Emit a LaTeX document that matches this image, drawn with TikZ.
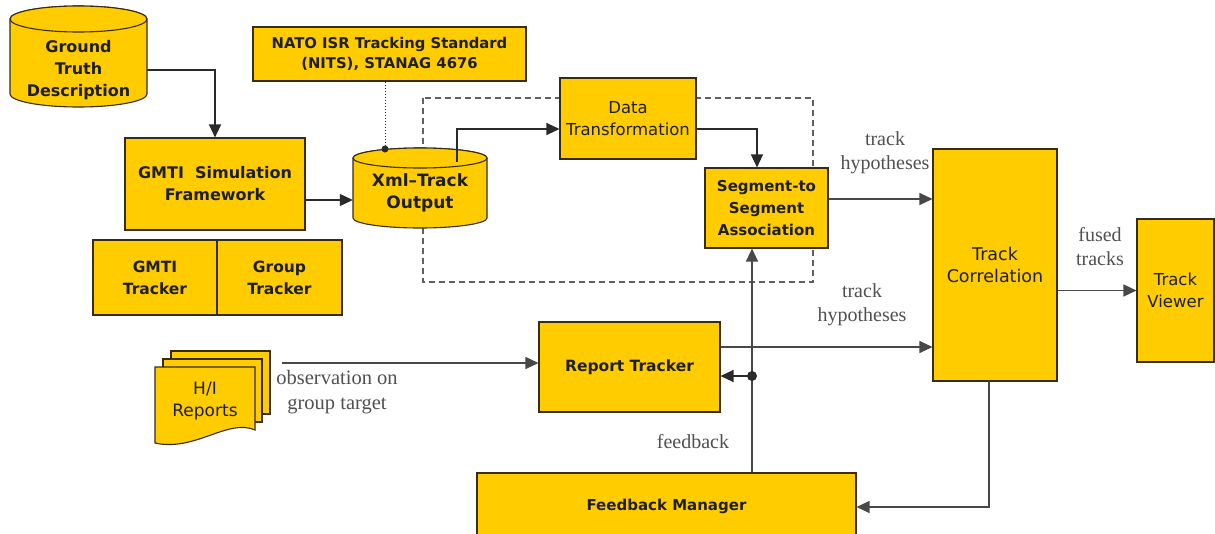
\documentclass[tikz,border=0pt]{standalone}
\usepackage{fontspec}
\setmainfont{DejaVu Sans}
\newfontfamily\lblfont{Liberation Serif}
\usetikzlibrary{arrows.meta,calc}
\definecolor{boxfill}{HTML}{FFCC00}
\definecolor{boxline}{HTML}{3A2C14}
\definecolor{lbl}{HTML}{505050}
\definecolor{conn}{HTML}{2A2A2A}
\definecolor{conng}{HTML}{484848}
\begin{document}
\begin{tikzpicture}[x=1pt,y=-1pt,
  box/.style={draw=boxline, fill=boxfill, line width=1.1pt, inner sep=0pt, align=center,
    text=black!88, font=\bfseries\fontsize{15.5}{22}\selectfont},
  plainbox/.style={box, font=\fontsize{17}{22}\selectfont},
  textonly/.style={inner sep=0pt, align=center, text=black!88, font=\bfseries\fontsize{16}{22}\selectfont},
  lab/.style={inner sep=0pt, align=center, text=lbl, font=\lblfont\fontsize{20}{24}\selectfont},
  arr/.style={draw=conn, line width=1.2pt, -{Triangle[length=13pt,width=12pt]}},
  cyl/.style={draw=boxline, fill=boxfill, line width=1.1pt}
]
\useasboundingbox (0,0) rectangle (1215,533);
\clip (0,0) rectangle (1215,533);
\fill[white] (0,0) rectangle (1215,533);

% dashed frame
\draw[gray!75!black, dashed, dash pattern=on 6pt off 4pt, line width=1.2pt] (423,98) rectangle (813,282);

% Ground truth cylinder
\draw[cyl] (10,19) -- (10,94) arc[start angle=180, end angle=0, x radius=68.5, y radius=13] -- (147,19)
  arc[start angle=0, end angle=-180, x radius=68.5, y radius=13] -- cycle;
\draw[cyl] (78.5,19) ellipse[x radius=68.5, y radius=13];
\node[textonly, minimum width=137, minimum height=76] (gt) at (78.5,70) {Ground\\Truth\\Description};

% Xml-Track cylinder
\draw[cyl] (353,158) -- (353,218) arc[start angle=180, end angle=0, x radius=67, y radius=10] -- (487,158)
  arc[start angle=0, end angle=-180, x radius=67, y radius=10] -- cycle;
\draw[cyl] (420,158) ellipse[x radius=67, y radius=10];
\node[textonly, minimum width=134, minimum height=70, font=\bfseries\fontsize{17}{22}\selectfont] (xml) at (420,193) {Xml--Track\\Output};
\coordinate (xmltop) at (457,162);

% boxes
\node[box, minimum width=273, minimum height=54, font=\bfseries\fontsize{14.8}{20}\selectfont] (nato) at (389.5,54) {NATO ISR Tracking Standard\\(NITS), STANAG 4676};
\node[box, minimum width=180, minimum height=92, font=\bfseries\fontsize{16}{22}\selectfont] (sim) at (215,184) {GMTI\ \ Simulation\\Framework};
\node[box, minimum width=124, minimum height=75] (trk1) at (155,277.5) {GMTI\\Tracker};
\node[box, minimum width=125, minimum height=75] (trk2) at (279.5,277.5) {Group\\Tracker};
\node[plainbox, minimum width=136, minimum height=81, font=\fontsize{16.5}{22}\selectfont] (dt) at (628,118.5) {Data\\Transformation};
\node[box, minimum width=123, minimum height=80, font=\bfseries\fontsize{15}{22}\selectfont] (seg) at (766.5,208) {Segment-to\\Segment\\Association};
\node[plainbox, minimum width=124, minimum height=232, font=\fontsize{17.5}{22}\selectfont] (tc) at (995,265) {Track\\Correlation};
\node[plainbox, minimum width=77, minimum height=143, font=\fontsize{16.5}{22}\selectfont] (tv) at (1175.5,290.5) {Track\\Viewer};
\node[box, minimum width=181, minimum height=90] (rt) at (629.5,367) {Report Tracker};
\node[box, minimum width=379, minimum height=67, font=\bfseries\fontsize{15}{22}\selectfont] (fm) at (666.5,506.5) {Feedback Manager};

% H/I reports (multi-document)
\draw[cyl] (171,351) rectangle (270,414);
\draw[cyl] (163,359) rectangle (262,422);
\draw[cyl] (155,367) -- (255,367) -- (255,430) .. controls (228,418) and (195,452) .. (155,443) -- cycle;
\node[textonly, font=\fontsize{17}{22}\selectfont] (hi) at (205,401) {H/I\\Reports};

% connectors
\draw[arr] (gt.east) -| (sim.north);
\draw[arr] ([yshift=-16pt]sim.east) -- ([yshift=-16pt]sim.east -| xml.west);
\draw[arr] (xmltop) |- ([yshift=-10.5pt]dt.west);
\draw[arr] ([yshift=-10.5pt]dt.east) -| ([xshift=-9.5pt]seg.north);
\draw[arr, draw=conng] ([yshift=9pt]seg.east) -- ([yshift=9pt]seg.east -| tc.west);
\draw[arr, draw=conng] (tv.west -| tc.east) -- (tv.west);
\draw[arr, draw=conng] ([yshift=20pt]rt.east) -- ([yshift=20pt]rt.east -| tc.west);
\coordinate (obs) at (282,363);
\draw[arr, draw=conng] (obs) -- (obs -| rt.west);
\coordinate (fb) at (752,376);
\draw[arr, draw=conng] (fb |- fm.north) -- (fb |- seg.south);
\draw[arr] (fb) -- (fb -| rt.east);
\fill[conn] (fb) circle[radius=5];
\coordinate (tcdown) at (989,381);
\draw[arr, draw=conng] (tcdown) |- ([yshift=-0.5pt]fm.east);
\coordinate (natodot) at (385,149);
\draw[conn, line width=1pt, dotted] (natodot |- nato.south) -- (natodot);
\fill[conn] (natodot) circle[radius=3.5];

% labels
\node[lab] (l1) at (885,153) {track\\hypotheses};
\node[lab] (l2) at (862,305) {track\\hypotheses};
\node[lab] (l3) at (1100,247) {fused\\tracks};
\node[lab, font=\lblfont\fontsize{20.5}{25}\selectfont] (l4) at (337,392) {observation on\\group target};
\node[lab] (l5) at (693,442) {feedback};
\end{tikzpicture}
\end{document}
